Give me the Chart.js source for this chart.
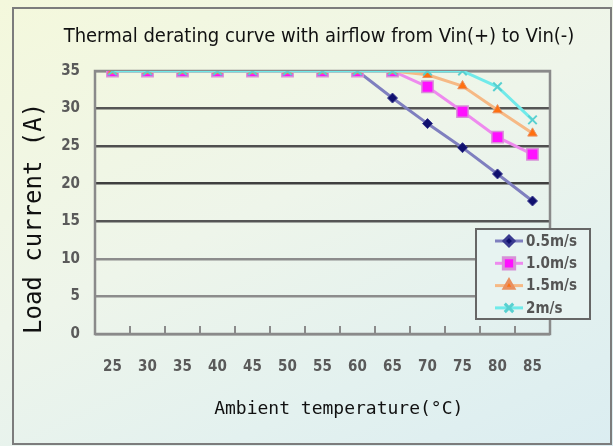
<!DOCTYPE html>
<html>
<head>
<meta charset="utf-8">
<script src="https://cdn.jsdelivr.net/npm/chart.js@4/dist/chart.umd.min.js"></script>
<style>
html, body { margin: 0; padding: 0; }
body {
    width: 613px; height: 446px; overflow: hidden;
    background: linear-gradient(155deg, #f4f8dc 0%, #eef5ea 45%, #e3f1ef 75%, #dbedf1 100%);
}
#wrap { position: relative; width: 613px; height: 446px; }
#frame {
    position: absolute; left: 12px; top: 7px; width: 600px; height: 438px;
    box-sizing: border-box; border: 2px solid #7c7c7c;
}
canvas { position: absolute; left: 0; top: 0; }
</style>
</head>
<body>
<div id="wrap">
  <div id="frame"></div>
  <canvas id="myChart" width="613" height="446"></canvas>
</div>
<script>
const temps = ['25', '30', '35', '40', '45', '50', '55', '60', '65', '70', '75', '80', '85'];

const air05 = [35, 35, 35, 35, 35, 35, 35, 35, 31.4, 28, 24.8, 21.3, 17.7];
const air10 = [35, 35, 35, 35, 35, 35, 35, 35, 35, 32.9, 29.6, 26.2, 23.9];
const air15 = [35, 35, 35, 35, 35, 35, 35, 35, 35, 34.5, 33, 29.8, 26.7];
const air20 = [35, 35, 35, 35, 35, 35, 35, 35, 35, 35, 35, 32.9, 28.5];

const seriesNames = ['0.5m/s', '1.0m/s', '1.5m/s', '2m/s'];

const narrow = '"DejaVu Sans Condensed", "Liberation Sans", sans-serif';
const mono = '"DejaVu Sans Mono", "Liberation Mono", monospace';

// grid line shade per y value
const gridShade = {0: '#858585', 5: '#8c8c8c', 10: '#8c8c8c', 15: '#555555', 20: '#3f3f3f', 25: '#4f4f4f', 30: '#555555', 35: '#8c8c8c'};

const ctx = document.getElementById('myChart');

// grey frame round the plot area
const plotFrame = {
    id: 'plotFrame',
    beforeDatasetsDraw(chart) {
        const a = chart.chartArea;
        const c = chart.ctx;
        c.save();
        c.strokeStyle = '#8a8a8a';
        c.lineWidth = 2.5;
        c.strokeRect(a.left, a.top, a.right - a.left, a.bottom - a.top);
        c.restore();
    }
};

// boxed legend sitting over the lower right of the plot
const boxLegend = {
    id: 'boxLegend',
    afterDraw(chart) {
        const c = chart.ctx;
        const bx = 476, by = 229, bw = 114, bh = 90;
        c.save();
        c.fillStyle = '#e7f3f1';
        c.fillRect(bx, by, bw, bh);
        c.strokeStyle = '#666';
        c.lineWidth = 2;
        c.strokeRect(bx, by, bw, bh);
        chart.data.datasets.forEach((ds, i) => {
            const y = by + 12 + i * 22.3;
            c.strokeStyle = ds.borderColor;
            c.lineWidth = 3;
            c.beginPath();
            c.moveTo(495, y);
            c.lineTo(523, y);
            c.stroke();
            c.fillStyle = ds.pointBackgroundColor;
            c.strokeStyle = ds.pointBorderColor;
            Chart.helpers.drawPoint(c, {
                pointStyle: ds.pointStyle,
                radius: ds.pointRadius,
                rotation: 0,
                borderWidth: ds.pointBorderWidth
            }, 509, y);
            c.fillStyle = '#555';
            c.font = 'bold 15px ' + narrow;
            c.textBaseline = 'middle';
            c.textAlign = 'left';
            c.fillText(ds.label, 526, y + 1);
        });
        c.restore();
    }
};

var deratingChart = new Chart(ctx, {
    type: 'line',
    data: {
        labels: temps,
        datasets: [
            {
                label: seriesNames[0], data: air05, order: 4,
                borderColor: '#7f7fbf', borderWidth: 3,
                pointStyle: 'rectRot', pointRadius: 5,
                pointBackgroundColor: '#10106e', pointBorderColor: '#3a3a90', pointBorderWidth: 1
            },
            {
                label: seriesNames[1], data: air10, order: 3,
                borderColor: '#ee8aee', borderWidth: 3,
                pointStyle: 'rect', pointRadius: 8,
                pointBackgroundColor: '#ff10ff', pointBorderColor: '#d890d8', pointBorderWidth: 1.5
            },
            {
                label: seriesNames[2], data: air15, order: 2,
                borderColor: '#f6b985', borderWidth: 3,
                pointStyle: 'triangle', pointRadius: 5.5,
                pointBackgroundColor: '#ff7010', pointBorderColor: '#e89060', pointBorderWidth: 1
            },
            {
                label: seriesNames[3], data: air20, order: 1,
                borderColor: '#70eaea', borderWidth: 3,
                pointStyle: 'crossRot', pointRadius: 6,
                pointBackgroundColor: '#50d8d8', pointBorderColor: '#58d0d0', pointBorderWidth: 2
            }
        ]
    },
    options: {
        responsive: false,
        animation: false,
        layout: {
            padding: {left: 25, right: 0, top: 12, bottom: 10}
        },
        plugins: {
            legend: {display: false},
            tooltip: {enabled: false},
            title: {
                display: true,
                text: 'Thermal derating curve with airflow from Vin(+) to Vin(-)',
                color: '#111',
                font: {family: narrow, size: 20, weight: 'normal', lineHeight: 1.35},
                padding: {top: 11, bottom: 21}
            }
        },
        scales: {
            x: {
                offset: true,
                grid: {
                    offset: true,
                    drawOnChartArea: false,
                    drawTicks: true,
                    tickLength: -8,
                    color: '#8a8a8a',
                    lineWidth: 2
                },
                border: {display: false},
                ticks: {
                    color: '#5a5a5a',
                    font: {family: narrow, size: 15, weight: 'bold'},
                    padding: 32,
                    maxRotation: 0,
                    autoSkip: false
                },
                title: {
                    display: true,
                    text: '   Ambient temperature(°C)',
                    color: '#111',
                    font: {family: mono, size: 18},
                    padding: {top: 0, bottom: 16}
                },
                afterFit: s => { s.height = 102; }
            },
            y: {
                min: 0,
                max: 35,
                ticks: {
                    stepSize: 5,
                    color: '#5a5a5a',
                    font: {family: narrow, size: 15, weight: 'bold'},
                    padding: 15
                },
                grid: {
                    drawTicks: false,
                    color: c => gridShade[c.tick ? c.tick.value : 0] || '#777',
                    lineWidth: 2.5
                },
                border: {display: false},
                title: {
                    display: true,
                    text: 'Load current (A)',
                    align: 'start',
                    color: '#111',
                    font: {family: mono, size: 24, lineHeight: 1},
                    padding: {top: -2, bottom: 0}
                },
                afterFit: s => { s.width = 70; }
            },
            yRight: {
                position: 'right',
                display: true,
                ticks: {display: false},
                grid: {display: false},
                border: {display: false},
                afterFit: s => { s.width = 63; }
            }
        }
    },
    plugins: [plotFrame, boxLegend]
});
</script>
</body>
</html>
